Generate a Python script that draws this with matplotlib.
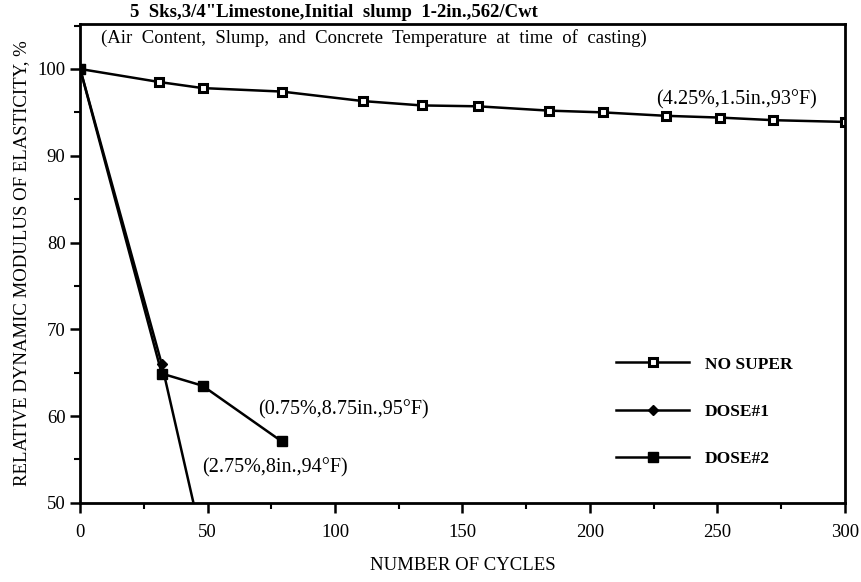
import matplotlib
matplotlib.use("Agg")
import matplotlib.pyplot as plt
from matplotlib.ticker import MultipleLocator

plt.rcParams["font.family"] = ["Liberation Serif", "DejaVu Serif"]

# data (cycles, relative dynamic modulus %)
no_super_x = [0, 31, 48, 79, 111, 134, 156, 184, 205, 230, 251, 272, 300]
no_super_y = [100, 98.5, 97.8, 97.4, 96.3, 95.8, 95.7, 95.2, 95.0, 94.6, 94.4, 94.1, 93.9]

dose1_x = [0, 32, 46]
dose1_y = [100, 66.0, 48.0]

dose2_x = [0, 32, 48, 79]
dose2_y = [100, 64.9, 63.5, 57.1]

labels = ["NO SUPER", "DOSE#1", "DOSE#2"]

fig = plt.figure(figsize=(8.62, 5.82), dpi=100)
ax = fig.add_axes([0.093, 0.136, 0.887, 0.823])

lw = 1.8
ax.plot(no_super_x, no_super_y, color="black", lw=lw, marker="s", ms=6,
        mfc="white", mec="black", mew=2.2, label=labels[0])
ax.plot(dose1_x, dose1_y, color="black", lw=lw, marker="D", ms=5.5,
        mfc="black", mec="black", label=labels[1])
ax.plot(dose2_x, dose2_y, color="black", lw=lw, marker="s", ms=7,
        mfc="black", mec="black", label=labels[2])

ax.set_xlim(0, 300)
ax.set_ylim(50, 105.2)
ax.xaxis.set_major_locator(MultipleLocator(50))
ax.xaxis.set_minor_locator(MultipleLocator(25))
ax.yaxis.set_major_locator(MultipleLocator(10))
ax.yaxis.set_minor_locator(MultipleLocator(5))
ax.tick_params(which="major", direction="out", length=7, width=1.8, labelsize=13.5)
ax.tick_params(which="minor", direction="out", length=4, width=1.5)
ax.tick_params(axis="x", pad=8)
for s in ax.spines.values():
    s.set_linewidth(2)

ax.set_xlabel("NUMBER OF CYCLES", fontsize=13.5, labelpad=12)
ax.set_ylabel("RELATIVE DYNAMIC MODULUS OF ELASTICITY, %", fontsize=13.5, labelpad=5)

ax.text(8, 103.6, "(Air  Content,  Slump,  and  Concrete  Temperature  at  time  of  casting)",
        fontsize=13.5, va="center", ha="left")
ax.text(226, 96.4, "(4.25%,1.5in.,93°F)", fontsize=14.5, va="center", ha="left")
ax.text(70, 60.7, "(0.75%,8.75in.,95°F)", fontsize=14.5, va="center", ha="left")
ax.text(48, 54, "(2.75%,8in.,94°F)", fontsize=14.5, va="center", ha="left")

fig.text(0.151, 0.978, '5  Sks,3/4"Limestone,Initial  slump  1-2in.,562/Cwt',
         fontsize=13.5, fontweight="bold", ha="left", va="center")

leg = ax.legend(loc="center left", bbox_to_anchor=(0.69, 0.19), frameon=False,
                handlelength=4.2, handletextpad=0.9, labelspacing=1.8,
                borderpad=0, prop={"size": 12.5, "weight": "bold"})

fig.savefig("out.png", dpi=100)
